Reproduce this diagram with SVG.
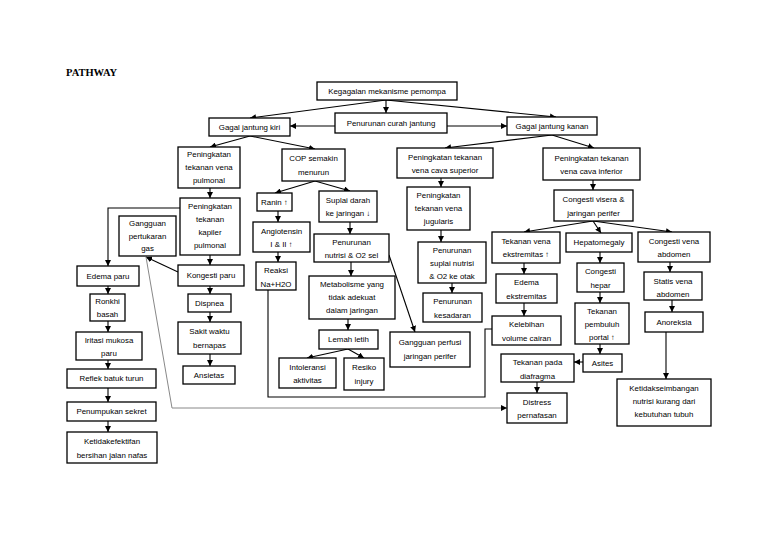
<svg xmlns="http://www.w3.org/2000/svg" width="768" height="543" viewBox="0 0 768 543">
<defs>
<marker id="ah" markerUnits="userSpaceOnUse" markerWidth="6" markerHeight="6" refX="6" refY="3" orient="auto"><path d="M0,0 L6,3 L0,6 z" fill="#000"/></marker>
<style>
rect{fill:#fff;stroke:#000;stroke-width:1.3}
text{font-family:"Liberation Sans",Arial,sans-serif;font-size:7.9px;text-anchor:middle;fill:#000}
.c line,.c polyline{stroke:#000;stroke-width:1.1;fill:none}
.c .a{marker-end:url(#ah)}
.c .g{stroke:#888;stroke-width:1}
.title{font-family:"Liberation Serif","Times New Roman",serif;font-size:10.5px;font-weight:bold;text-anchor:start}
</style>
</defs>
<rect x="0" y="0" width="768" height="543" style="fill:#fff;stroke:none"/>
<text class="title" x="66" y="76">PATHWAY</text>

<g class="c" id="connectors">
<line class="a" x1="386" y1="100" x2="386" y2="113"/>
<line class="a" x1="386" y1="100" x2="250" y2="118"/>
<line class="a" x1="386" y1="100" x2="556" y2="117"/>
<line class="a" x1="335" y1="126" x2="290" y2="126"/>
<line class="a" x1="447" y1="126" x2="507" y2="126"/>
<line class="a" x1="250" y1="136" x2="210" y2="147"/>
<line class="a" x1="250" y1="136" x2="315" y2="149"/>
<line class="a" x1="552" y1="135" x2="445" y2="148"/>
<line class="a" x1="552" y1="135" x2="594" y2="148"/>
<line class="a" x1="210" y1="188" x2="210" y2="198"/>
<line class="a" x1="315" y1="181" x2="275" y2="193"/>
<line class="a" x1="315" y1="181" x2="350" y2="191"/>
<line class="a" x1="441" y1="178" x2="441" y2="187"/>
<line class="a" x1="593" y1="180" x2="593" y2="190"/>
<line class="a" x1="278" y1="211" x2="278" y2="222"/>
<line class="a" x1="350" y1="222" x2="350" y2="234"/>
<line class="a" x1="441" y1="230" x2="441" y2="242"/>
<line class="a" x1="593" y1="221" x2="524" y2="232"/>
<line class="a" x1="593" y1="221" x2="601" y2="233"/>
<line class="a" x1="593" y1="221" x2="672" y2="232"/>
<line class="a" x1="210" y1="255" x2="210" y2="265"/>
<polyline class="a" points="180,208 108,208 108,266"/>
<line class="a" x1="178" y1="272" x2="146" y2="257"/>
<line class="a" x1="210" y1="286" x2="210" y2="294"/>
<line class="a" x1="278" y1="252" x2="278" y2="262"/>
<line class="a" x1="351" y1="262" x2="351" y2="276"/>
<line class="a" x1="452" y1="283" x2="452" y2="293"/>
<line class="a" x1="524" y1="263" x2="524" y2="274"/>
<line class="a" x1="600" y1="252" x2="600" y2="263"/>
<line class="a" x1="670" y1="262" x2="670" y2="272"/>
<line class="a" x1="108" y1="286" x2="108" y2="294"/>
<line class="a" x1="210" y1="312" x2="210" y2="322"/>
<line class="a" x1="348" y1="319" x2="348" y2="330"/>
<line class="a" x1="524" y1="303" x2="524" y2="316"/>
<line class="a" x1="600" y1="292" x2="600" y2="303"/>
<line class="a" x1="672" y1="300" x2="672" y2="312"/>
<line class="a" x1="108" y1="321" x2="108" y2="332"/>
<line class="a" x1="210" y1="354" x2="210" y2="366"/>
<line class="a" x1="348" y1="349" x2="307" y2="358"/>
<line class="a" x1="348" y1="349" x2="364" y2="358"/>
<line class="a" x1="600" y1="344" x2="600" y2="354"/>
<line class="a" x1="583" y1="362" x2="574" y2="362"/>
<line class="a" x1="666" y1="332" x2="666" y2="379"/>
<line class="a" x1="108" y1="360" x2="108" y2="369"/>
<line class="a" x1="537" y1="382" x2="537" y2="393"/>
<line class="a" x1="108" y1="388" x2="108" y2="402"/>
<line class="a" x1="108" y1="421" x2="108" y2="432"/>
<line class="a" x1="389" y1="255" x2="415" y2="332"/>
<polyline points="268,290 268,397 485,397 485,329 492,329"/>
<polyline class="a g" points="146,257 172,408 507,408"/>
</g>

<g id="n1"><rect x="317" y="82" width="140" height="18"/><text x="387" y="94">Kegagalan mekanisme pemompa</text></g>
<g id="n2"><rect x="335" y="113" width="112" height="20"/><text x="391" y="126">Penurunan curah jantung</text></g>
<g id="n3"><rect x="209" y="118" width="81" height="18"/><text x="249.5" y="130">Gagal jantung kiri</text></g>
<g id="n4"><rect x="507" y="117" width="90" height="18"/><text x="552" y="129">Gagal jantung kanan</text></g>
<g id="n5"><rect x="178" y="147" width="62" height="41"/><text x="209" y="157">Peningkatan</text><text x="209" y="170">tekanan vena</text><text x="209" y="183">pulmonal</text></g>
<g id="n6"><rect x="282" y="149" width="63" height="32"/><text x="313.5" y="161">COP semakin</text><text x="313.5" y="175">menurun</text></g>
<g id="n7"><rect x="397" y="148" width="96" height="30"/><text x="445" y="160">Peningkatan tekanan</text><text x="445" y="173">vena cava superior</text></g>
<g id="n8"><rect x="543" y="148" width="97" height="32"/><text x="591.5" y="161">Peningkatan tekanan</text><text x="591.5" y="174">vena cava inferior</text></g>
<g id="n9"><rect x="257" y="193" width="35" height="18"/><text x="274.5" y="205">Ranin ↑</text></g>
<g id="n10"><rect x="319" y="191" width="58" height="31"/><text x="348" y="203">Suplai darah</text><text x="348" y="216">ke jaringan ↓</text></g>
<g id="n11"><rect x="407" y="187" width="63" height="43"/><text x="438.5" y="198">Peningkatan</text><text x="438.5" y="211">tekanan vena</text><text x="438.5" y="224">jugularis</text></g>
<g id="n12"><rect x="554" y="190" width="79" height="31"/><text x="593.5" y="202">Congesti visera &amp;</text><text x="593.5" y="216">jaringan perifer</text></g>
<g id="n13"><rect x="119" y="216" width="57" height="40"/><text x="147.5" y="226">Gangguan</text><text x="147.5" y="239">pertukaran</text><text x="147.5" y="251">gas</text></g>
<g id="n14"><rect x="180" y="198" width="60" height="57"/><text x="210" y="209">Peningkatan</text><text x="210" y="222">tekanan</text><text x="210" y="235">kapiler</text><text x="210" y="248">pulmonal</text></g>
<g id="n15"><rect x="253" y="222" width="57" height="30"/><text x="281.5" y="234">Angiotensin</text><text x="281.5" y="247">I &amp; II ↑</text></g>
<g id="n16"><rect x="314" y="234" width="75" height="28"/><text x="351.5" y="245">Penurunan</text><text x="351.5" y="258">nutrisi &amp; O2 sel</text></g>
<g id="n17"><rect x="418" y="242" width="68" height="41"/><text x="452" y="253">Penurunan</text><text x="452" y="266">suplai nutrisi</text><text x="452" y="279">&amp; O2 ke otak</text></g>
<g id="n18"><rect x="492" y="232" width="68" height="31"/><text x="526" y="244">Tekanan vena</text><text x="526" y="257">ekstremitas ↑</text></g>
<g id="n19"><rect x="566" y="233" width="66" height="19"/><text x="599" y="245">Hepatomegaly</text></g>
<g id="n20"><rect x="638" y="232" width="72" height="30"/><text x="674" y="244">Congesti vena</text><text x="674" y="257">abdomen</text></g>
<g id="n21"><rect x="77" y="266" width="62" height="20"/><text x="108" y="279">Edema paru</text></g>
<g id="n22"><rect x="178" y="265" width="66" height="21"/><text x="211" y="278">Kongesti paru</text></g>
<g id="n23"><rect x="256" y="262" width="40" height="28"/><text x="276" y="273">Reaksi</text><text x="276" y="287">Na+H2O</text></g>
<g id="n24"><rect x="309" y="276" width="86" height="43"/><text x="352" y="287">Metabolisme yang</text><text x="352" y="300">tidak adekuat</text><text x="352" y="313">dalam jaringan</text></g>
<g id="n25"><rect x="496" y="274" width="61" height="29"/><text x="526.5" y="285">Edema</text><text x="526.5" y="299">ekstremitas</text></g>
<g id="n26"><rect x="577" y="263" width="47" height="29"/><text x="600.5" y="274">Congesti</text><text x="600.5" y="288">hepar</text></g>
<g id="n27"><rect x="644" y="272" width="58" height="28"/><text x="673" y="284">Statis vena</text><text x="673" y="297">abdomen</text></g>
<g id="n28"><rect x="90" y="294" width="35" height="27"/><text x="107.5" y="304">Ronkhi</text><text x="107.5" y="317">basah</text></g>
<g id="n29"><rect x="188" y="294" width="43" height="18"/><text x="209.5" y="306">Dispnea</text></g>
<g id="n30"><rect x="423" y="293" width="59" height="29"/><text x="452.5" y="304">Penurunan</text><text x="452.5" y="318">kesadaran</text></g>
<g id="n31"><rect x="575" y="303" width="54" height="41"/><text x="602" y="314">Tekanan</text><text x="602" y="327">pembuluh</text><text x="602" y="340">portal ↑</text></g>
<g id="n32"><rect x="645" y="312" width="58" height="20"/><text x="674" y="325">Anoreksia</text></g>
<g id="n33"><rect x="492" y="316" width="69" height="29"/><text x="526.5" y="327">Kelebihan</text><text x="526.5" y="341">volume cairan</text></g>
<g id="n34"><rect x="76" y="332" width="66" height="28"/><text x="109" y="343">Iritasi mukosa</text><text x="109" y="356">paru</text></g>
<g id="n35"><rect x="178" y="322" width="63" height="32"/><text x="209.5" y="334">Sakit waktu</text><text x="209.5" y="348">bernapas</text></g>
<g id="n36"><rect x="319" y="330" width="59" height="19"/><text x="348.5" y="342">Lemah letih</text></g>
<g id="n37"><rect x="390" y="332" width="80" height="35"/><text x="430" y="345">Gangguan perfusi</text><text x="430" y="359">jaringan perifer</text></g>
<g id="n38"><rect x="501" y="354" width="73" height="28"/><text x="537.5" y="365">Tekanan pada</text><text x="537.5" y="379">diafragma</text></g>
<g id="n39"><rect x="583" y="354" width="39" height="18"/><text x="602.5" y="366">Asites</text></g>
<g id="n40"><rect x="279" y="358" width="57" height="30"/><text x="307.5" y="370">Intoleransi</text><text x="307.5" y="383">aktivitas</text></g>
<g id="n41"><rect x="344" y="358" width="40" height="32"/><text x="364" y="370">Resiko</text><text x="364" y="384">injury</text></g>
<g id="n42"><rect x="183" y="366" width="52" height="18"/><text x="209" y="378">Ansietas</text></g>
<g id="n43"><rect x="67" y="369" width="89" height="19"/><text x="111.5" y="381">Reflek batuk turun</text></g>
<g id="n44"><rect x="617" y="379" width="94" height="47"/><text x="664" y="391">Ketidakseimbangan</text><text x="664" y="404">nutrisi kurang dari</text><text x="664" y="417">kebutuhan tubuh</text></g>
<g id="n45"><rect x="507" y="393" width="60" height="30"/><text x="537" y="405">Distress</text><text x="537" y="418">pernafasan</text></g>
<g id="n46"><rect x="67" y="402" width="89" height="19"/><text x="111.5" y="414">Penumpukan sekret</text></g>
<g id="n47"><rect x="67" y="432" width="90" height="31"/><text x="112" y="444">Ketidakefektifan</text><text x="112" y="458">bersihan jalan nafas</text></g>
</svg>
